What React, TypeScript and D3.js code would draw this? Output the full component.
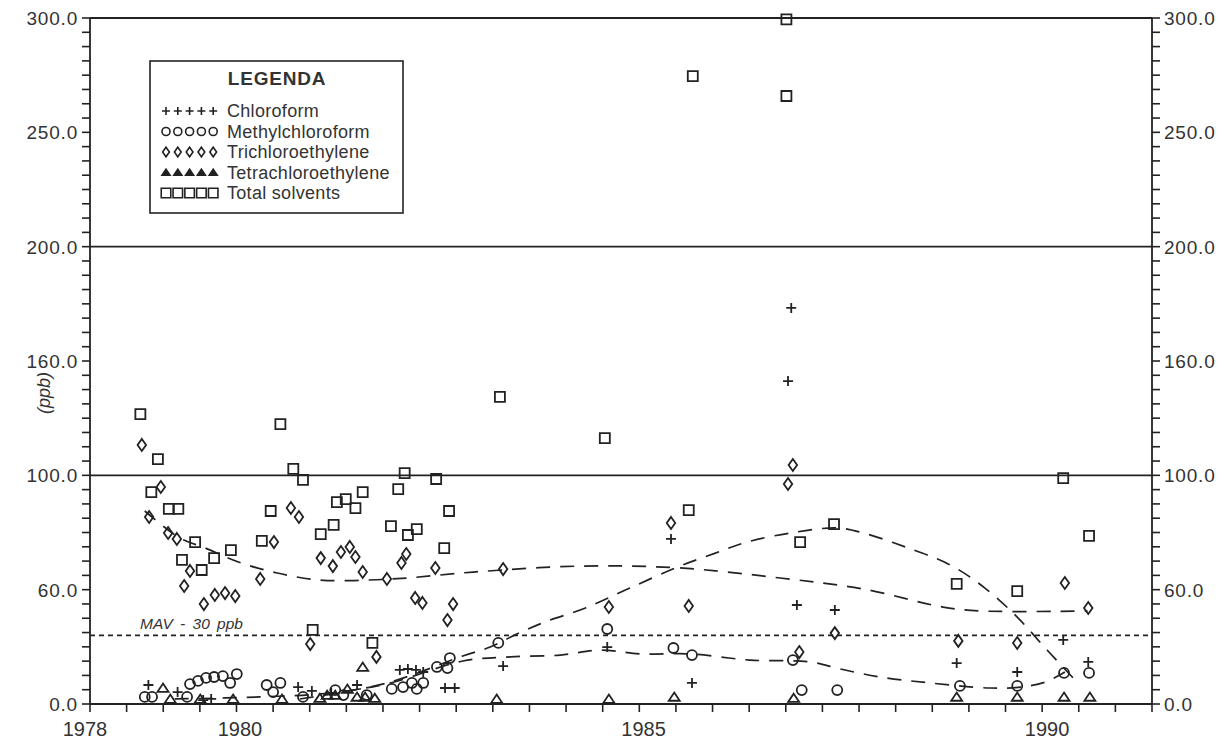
import * as d3 from 'd3';

const W = 1230;
const H = 743;
const left = 90;
const right = 1152;
const top = 18;
const bottom = 704;

// axis labels as printed on the original
const xTickLabels = [1978, 1980, 1985, 1990];
const yTickValues = [0, 50, 100, 150, 200, 250, 300];
const yTickLabels = ['0.0', '60.0', '100.0', '160.0', '200.0', '250.0', '300.0'];
const gridValues = [100, 200];
const mavValue = 30;

// [year, ppb]
const chloroform: [number, number][] = [
  [1978.8, 8.3], [1979.2, 5.2], [1979.55, 1.7], [1979.66, 2.2], [1980.77, 7.4], [1980.94, 5.7],
  [1981.18, 4.8], [1981.5, 8.3], [1982.03, 14.9], [1982.13, 15.3], [1982.23, 14.9], [1982.32, 14.0],
  [1982.59, 7.0], [1982.71, 7.0], [1983.31, 16.6], [1984.6, 24.9], [1985.39, 72.2], [1985.65, 9.2],
  [1986.84, 141.2], [1986.88, 173.2], [1986.95, 43.3], [1987.42, 41.1], [1988.93, 17.9],
  [1989.68, 14.0], [1990.25, 28.0], [1990.56, 18.4],
];

const methylchloroform: [number, number][] = [
  [1978.75, 3.1], [1978.85, 3.1], [1979.33, 3.1], [1979.37, 8.7], [1979.48, 10.1], [1979.59, 11.4],
  [1979.7, 11.8], [1979.82, 12.2], [1979.92, 9.2], [1980.01, 13.1], [1980.38, 8.3], [1980.46, 5.2],
  [1980.55, 9.2], [1980.83, 3.1], [1981.23, 6.1], [1981.33, 3.9], [1981.62, 3.9], [1981.93, 6.6],
  [1982.07, 7.4], [1982.18, 9.2], [1982.24, 6.6], [1982.32, 9.2], [1982.49, 16.2], [1982.62, 15.7],
  [1982.65, 20.1], [1983.25, 26.7], [1984.6, 32.8], [1985.42, 24.5], [1985.65, 21.4], [1986.9, 19.2],
  [1987.01, 6.1], [1987.45, 6.1], [1988.97, 7.9], [1989.68, 7.9], [1990.26, 13.6], [1990.57, 13.6],
];

const trichloroethylene: [number, number][] = [
  [1978.71, 113.3], [1978.81, 81.8], [1978.97, 94.9], [1979.07, 74.8], [1979.19, 72.2], [1979.29, 51.6],
  [1979.37, 58.2], [1979.56, 43.7], [1979.71, 47.7], [1979.85, 48.5], [1979.99, 47.2], [1980.3, 54.7],
  [1980.47, 70.8], [1980.68, 85.7], [1980.78, 81.8], [1980.92, 26.2], [1981.05, 63.8], [1981.2, 60.3],
  [1981.3, 66.5], [1981.41, 68.7], [1981.48, 64.3], [1981.57, 57.7], [1981.74, 20.6], [1981.87, 54.7],
  [1982.05, 61.7], [1982.11, 65.6], [1982.22, 46.4], [1982.31, 44.2], [1982.47, 59.5], [1982.62, 36.7],
  [1982.69, 43.7], [1983.31, 59.0], [1984.62, 42.4], [1985.39, 79.2], [1985.61, 42.9], [1986.84, 96.2],
  [1986.9, 104.5], [1986.98, 22.7], [1987.42, 31.0], [1988.95, 27.6], [1989.68, 26.7], [1990.27, 52.9],
  [1990.56, 42.0],
];

const tetrachloroethylene: [number, number][] = [
  [1979.0, 7.0], [1979.1, 2.2], [1979.51, 2.2], [1979.96, 2.2], [1980.57, 2.2], [1981.04, 2.6],
  [1981.13, 3.9], [1981.23, 3.9], [1981.38, 6.6], [1981.5, 3.1], [1981.57, 16.2], [1981.6, 3.1],
  [1981.72, 2.6], [1983.23, 2.2], [1984.62, 2.2], [1985.43, 3.1], [1986.91, 2.6], [1988.93, 3.1],
  [1989.68, 3.1], [1990.26, 3.1], [1990.58, 3.1],
];

const totalSolvents: [number, number][] = [
  [1978.69, 126.8], [1978.84, 92.7], [1978.93, 107.1], [1979.08, 85.3], [1979.21, 85.3], [1979.26, 63.0],
  [1979.44, 70.8], [1979.53, 58.6], [1979.7, 63.8], [1979.93, 67.3], [1980.32, 71.3], [1980.43, 84.4],
  [1980.55, 122.4], [1980.71, 102.8], [1980.83, 98.0], [1980.95, 32.4], [1981.05, 74.3], [1981.21, 78.3],
  [1981.25, 88.3], [1981.36, 89.6], [1981.48, 85.7], [1981.57, 92.7], [1981.69, 26.7], [1981.92, 77.8],
  [1982.01, 94.0], [1982.09, 101.0], [1982.13, 73.9], [1982.24, 76.5], [1982.48, 98.4], [1982.58, 68.2],
  [1982.64, 84.4], [1983.27, 134.3], [1984.57, 116.3], [1985.61, 84.8], [1985.66, 274.6], [1986.82, 299.4],
  [1986.82, 265.9], [1986.99, 70.8], [1987.41, 78.7], [1988.93, 52.5], [1989.68, 49.4], [1990.25, 98.8],
  [1990.57, 73.5],
];

// dashed smoothing curves
const trendTrichloro: [number, number][] = [
  [1978.75, 84.4], [1979.23, 72.6], [1979.58, 68.2], [1980.03, 62.1], [1980.51, 57.3], [1981.04, 54.2],
  [1981.62, 54.2], [1982.12, 55.1], [1982.94, 57.7], [1984.26, 60.3], [1985.5, 59.5], [1986.74, 55.1],
  [1987.77, 50.3], [1988.76, 42.4], [1989.22, 40.7], [1990.55, 40.7],
];
const trendMethyl: [number, number][] = [
  [1979.16, 2.2], [1980.3, 3.1], [1981.17, 4.8], [1981.91, 9.2], [1982.81, 18.8], [1983.4, 20.6],
  [1984.02, 21.4], [1984.51, 23.6], [1985.01, 21.9], [1985.63, 21.9], [1986.37, 19.2], [1987.11, 18.4],
  [1987.49, 15.3], [1987.98, 11.8], [1988.6, 9.2], [1989.34, 7.0], [1989.72, 7.4], [1990.03, 9.6],
  [1990.27, 14.0],
];
const trendChloro: [number, number][] = [
  [1980.79, 2.2], [1981.87, 9.2], [1982.81, 21.0], [1983.15, 24.9], [1983.48, 30.6], [1983.83, 35.9],
  [1984.33, 42.0], [1984.88, 50.7], [1985.47, 59.9], [1985.94, 66.0], [1986.33, 70.8], [1986.87, 74.8],
  [1987.45, 77.0], [1987.77, 74.8], [1988.29, 68.7], [1988.85, 60.8], [1989.28, 50.7], [1989.68, 38.0],
  [1990.05, 23.6], [1990.42, 9.6],
];

const legendNames = ['Chloroform', 'Methylchloroform', 'Trichloroethylene', 'Tetrachloroethylene', 'Total solvents'];
const legendKinds = ['plus', 'circle', 'diamond', 'triangle', 'square'];

const ink = '#222';
const font = '"Liberation Sans", Arial, Helvetica, sans-serif';

function markerPath(kind: string, s: number) {
  const h = s / 2;
  if (kind === 'plus') return `M${-h},0H${h}M0,${-h}V${h}`;
  if (kind === 'circle') return `M${h},0A${h},${h} 0 1,1 ${-h},0A${h},${h} 0 1,1 ${h},0Z`;
  if (kind === 'diamond') return `M0,${-h * 1.2}L${h * 0.85},0L0,${h * 1.2}L${-h * 0.85},0Z`;
  if (kind === 'triangle') return `M0,${-h * 0.8}L${h},${h * 0.7}L${-h},${h * 0.7}Z`;
  return `M${-h},${-h}H${h}V${h}H${-h}Z`;
}

export default function App() {
  // the printed axis is not quite uniform between 1978 and 1980
  const x = d3.scaleLinear().domain([1978, 1980, 1991.35]).range([left, 236, right]);
  const y = d3.scaleLinear().domain([0, 300]).range([bottom, top]);
  const tickIdx = d3.scaleLinear().domain([0, 29]).range([left, right]);
  const xMinor = d3.range(30).map((i) => tickIdx(i));
  const yMinor = d3.range(0, 300.01, 6.25);

  const line = d3
    .line<[number, number]>()
    .x((d) => x(d[0]))
    .y((d) => y(d[1]))
    .curve(d3.curveCatmullRom.alpha(0.5));

  const series: { kind: string; data: [number, number][]; size: number }[] = [
    { kind: 'triangle', data: tetrachloroethylene, size: 11 },
    { kind: 'circle', data: methylchloroform, size: 10 },
    { kind: 'plus', data: chloroform, size: 10 },
    { kind: 'diamond', data: trichloroethylene, size: 10 },
    { kind: 'square', data: totalSolvents, size: 10 },
  ];

  return (
    <svg width={W} height={H} style={{ position: 'absolute', left: 0, top: 0, background: '#fff' }} fontFamily={font}>
      {/* frame */}
      <g stroke={ink} strokeWidth={1.8} fill="none">
        <line x1={left} x2={left} y1={top} y2={bottom} />
        <line x1={right} x2={right} y1={top} y2={bottom} />
        <line x1={left} x2={right} y1={y(300)} y2={y(300)} />
        <line x1={left} x2={right} y1={bottom} y2={bottom} />
        {gridValues.map((v) => (
          <line key={v} x1={left} x2={right} y1={y(v)} y2={y(v)} />
        ))}
      </g>

      {/* y ticks both sides */}
      <g stroke={ink} strokeWidth={1.6}>
        {yMinor.map((v) => (
          <g key={v}>
            <line x1={left - 8} x2={left} y1={y(v)} y2={y(v)} />
            <line x1={right} x2={right + 8} y1={y(v)} y2={y(v)} />
          </g>
        ))}
        {xMinor.map((px, i) => (
          <line key={i} x1={px} x2={px} y1={bottom} y2={bottom + 8} />
        ))}
      </g>

      <g fill="#333" fontSize={19}>
        {yTickValues.map((v, i) => (
          <g key={v}>
            <text x={left - 12} y={y(v)} dy="0.36em" textAnchor="end" letterSpacing={0.8}>
              {yTickLabels[i]}
            </text>
            <text x={right + 12} y={y(v)} dy="0.36em" letterSpacing={0.8}>
              {yTickLabels[i]}
            </text>
          </g>
        ))}
        {xTickLabels.map((v) => (
          <text key={v} x={v === 1978 ? left - 5 : x(v) + 4} y={bottom + 32} textAnchor="middle" fontSize={20}>
            {v}
          </text>
        ))}
      </g>

      <text
        transform={`translate(50,${y(136)}) rotate(-90)`}
        textAnchor="middle"
        fontSize={18}
        fontStyle="italic"
        fill="#333"
      >
        (ppb)
      </text>

      {/* MAV */}
      <line x1={left} x2={right} y1={y(mavValue)} y2={y(mavValue)} stroke={ink} strokeWidth={1.6} strokeDasharray="5 4" />
      <text x={140} y={y(mavValue) - 6} fontSize={15.5} fontStyle="italic" fill="#333" wordSpacing={3}>
        MAV - 30 ppb
      </text>

      {/* trends */}
      <g fill="none" stroke={ink} strokeWidth={1.7} strokeDasharray="14 10">
        <path d={line(trendTrichloro) || ''} />
        <path d={line(trendMethyl) || ''} />
        <path d={line(trendChloro) || ''} />
      </g>

      {/* points */}
      {series.map((s) => (
        <g key={s.kind} fill="none" stroke={ink} strokeWidth={1.8}>
          {s.data.map((d, i) => (
            <path key={i} transform={`translate(${x(d[0])},${y(d[1])})`} d={markerPath(s.kind, s.size)} />
          ))}
        </g>
      ))}

      {/* legend */}
      <g>
        <rect x={150} y={61} width={253} height={152} fill="#fff" stroke={ink} strokeWidth={1.6} />
        <text x={277} y={85} textAnchor="middle" fontWeight="bold" fontSize={19} fill="#333" letterSpacing={0.8}>
          LEGENDA
        </text>
        {legendNames.map((name, i) => {
          const cy = 111 + i * 20.5;
          return (
            <g key={name}>
              {d3.range(5).map((j) => (
                <path
                  key={j}
                  transform={`translate(${166 + j * 11.8},${cy})`}
                  d={markerPath(legendKinds[i], legendKinds[i] === 'square' ? 9.5 : 8)}
                  fill={legendKinds[i] === 'triangle' ? ink : 'none'}
                  stroke={ink}
                  strokeWidth={1.6}
                />
              ))}
              <text x={227} y={cy} dy="0.36em" fontSize={18} fill="#333" letterSpacing={0.3}>
                {name}
              </text>
            </g>
          );
        })}
      </g>
    </svg>
  );
}
